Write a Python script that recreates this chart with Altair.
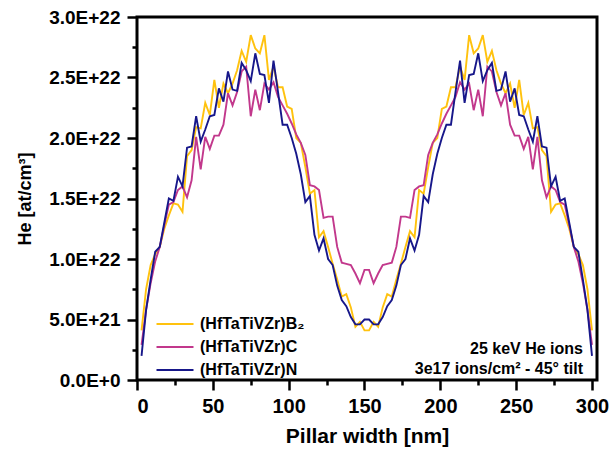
import altair as alt
import pandas as pd

# Pillar width grid [nm]
x_nm = [3, 6, 9, 12, 15, 18, 21, 24, 27, 30, 33, 36, 39, 42, 45, 48, 51, 54, 57, 60,
        63, 66, 69, 72, 75, 78, 81, 84, 87, 90, 93, 96, 99, 102, 105, 108, 111, 114, 117, 120,
        123, 126, 129, 132, 135, 138, 141, 144, 147, 150, 153, 156, 159, 162, 165, 168, 171, 174, 177, 180,
        183, 186, 189, 192, 195, 198, 201, 204, 207, 210, 213, 216, 219, 222, 225, 228, 231, 234, 237, 240,
        243, 246, 249, 252, 255, 258, 261, 264, 267, 270, 273, 276, 279, 282, 285, 288, 291, 294, 297, 300]

# He concentration in units of 1E+22 at/cm^3
he_b2 = [0.41, 0.75, 0.95, 1.04, 1.10, 1.25, 1.36, 1.46, 1.45, 1.39,
         1.85, 1.90, 2.09, 2.08, 2.29, 2.19, 2.48, 2.25, 2.45, 2.37,
         2.45, 2.56, 2.72, 2.63, 2.85, 2.74, 2.70, 2.85, 2.48, 2.59,
         2.42, 2.42, 2.26, 2.24, 2.00, 1.96, 1.76, 1.54, 1.57, 1.18,
         1.23, 1.10, 0.96, 0.83, 0.69, 0.71, 0.60, 0.44, 0.48, 0.41,
         0.41, 0.48, 0.44, 0.60, 0.71, 0.69, 0.83, 0.96, 1.10, 1.23,
         1.18, 1.57, 1.54, 1.76, 1.96, 2.00, 2.24, 2.26, 2.42, 2.42,
         2.59, 2.48, 2.85, 2.70, 2.74, 2.85, 2.63, 2.72, 2.56, 2.45,
         2.37, 2.45, 2.25, 2.48, 2.19, 2.29, 2.08, 2.09, 1.90, 1.85,
         1.39, 1.45, 1.46, 1.36, 1.25, 1.10, 1.04, 0.95, 0.75, 0.41]

he_c = [0.29, 0.58, 0.80, 0.98, 1.10, 1.28, 1.45, 1.47, 1.57, 1.60,
        1.51, 1.65, 2.01, 1.74, 2.01, 1.91, 2.02, 2.02, 2.11, 2.37,
        2.27, 2.38, 2.55, 2.59, 2.18, 2.40, 2.23, 2.45, 2.40, 2.46,
        2.34, 2.27, 2.20, 2.12, 2.03, 1.96, 1.86, 1.61, 1.60, 1.57,
        1.34, 1.35, 1.35, 1.10, 0.97, 0.96, 0.95, 0.88, 0.80, 0.91,
        0.91, 0.80, 0.88, 0.95, 0.96, 0.97, 1.10, 1.35, 1.35, 1.34,
        1.57, 1.60, 1.61, 1.86, 1.96, 2.03, 2.12, 2.20, 2.27, 2.34,
        2.46, 2.40, 2.45, 2.23, 2.40, 2.18, 2.59, 2.55, 2.38, 2.27,
        2.37, 2.11, 2.02, 2.02, 1.91, 2.01, 1.74, 2.01, 1.65, 1.51,
        1.60, 1.57, 1.47, 1.45, 1.28, 1.10, 0.98, 0.80, 0.58, 0.29]

he_n = [0.20, 0.58, 0.83, 1.06, 1.10, 1.30, 1.50, 1.48, 1.68, 1.60,
        1.92, 1.93, 2.18, 1.97, 2.07, 2.18, 2.19, 2.41, 2.30, 2.55,
        2.40, 2.39, 2.62, 2.56, 2.47, 2.70, 2.53, 2.52, 2.29, 2.64,
        2.38, 2.11, 2.11, 2.00, 1.87, 1.70, 1.47, 1.52, 1.20, 1.07,
        1.17, 1.00, 0.95, 0.78, 0.66, 0.61, 0.52, 0.46, 0.46, 0.50,
        0.50, 0.46, 0.46, 0.52, 0.61, 0.66, 0.78, 0.95, 1.00, 1.17,
        1.07, 1.20, 1.52, 1.47, 1.70, 1.87, 2.00, 2.11, 2.11, 2.38,
        2.64, 2.29, 2.52, 2.53, 2.70, 2.47, 2.56, 2.62, 2.39, 2.40,
        2.55, 2.30, 2.41, 2.19, 2.18, 2.07, 1.97, 2.18, 1.93, 1.92,
        1.60, 1.68, 1.48, 1.50, 1.30, 1.10, 1.06, 0.83, 0.58, 0.20]

series_names = ["(HfTaTiVZr)B\u2082", "(HfTaTiVZr)C", "(HfTaTiVZr)N"]
series_colors = ["#FFC20E", "#C2388C", "#17178A"]
annotation_lines = ["25 keV He ions", "3e17 ions/cm\u00b2 - 45\u00b0 tilt"]

x_major = [0, 50, 100, 150, 200, 250, 300]
x_minor = [25, 75, 125, 175, 225, 275]
y_major = [0, 0.5, 1.0, 1.5, 2.0, 2.5, 3.0]
y_minor = [0.25, 0.75, 1.25, 1.75, 2.25, 2.75]

rows = []
for name, vals in zip(series_names, [he_b2, he_c, he_n]):
    for i, (xv, yv) in enumerate(zip(x_nm, vals)):
        rows.append({"x": xv, "he": yv, "series": name, "order": i})
df = pd.DataFrame(rows)

FONT = "Liberation Sans"
xscale = alt.Scale(domain=[0, 303.3], nice=False, zero=False)
yscale = alt.Scale(domain=[0, 3.0], nice=False)

ylabel_expr = ("datum.value == 0 ? '0.0E+0' : (datum.value < 1 ? "
               "format(datum.value * 10, '.1f') + 'E+21' : format(datum.value, '.1f') + 'E+22')")

lines = alt.Chart(df).mark_line(strokeWidth=1.9, strokeJoin="miter").encode(
    x=alt.X("x:Q", scale=xscale,
            axis=alt.Axis(values=x_major, title="Pillar width [nm]", orient="bottom",
                          tickSize=10, tickWidth=2.5, labelPadding=6, titlePadding=9,
                          labelFontSize=20, titleFontSize=21)),
    y=alt.Y("he:Q", scale=yscale,
            axis=alt.Axis(values=y_major, title="He [at/cm\u00b3]", orient="left",
                          labelExpr=ylabel_expr, tickSize=10, tickWidth=2.5,
                          labelPadding=7, titlePadding=14, labelFontSize=19, titleFontSize=18)),
    color=alt.Color("series:N",
                    scale=alt.Scale(domain=series_names, range=series_colors),
                    legend=alt.Legend(title=None, orient="none", legendX=30, legendY=299,
                                      symbolType="M-3,0H3", symbolSize=152, symbolStrokeWidth=2,
                                      labelFontSize=16, labelFont=FONT, labelFontWeight="bold",
                                      labelOffset=17, rowPadding=7, padding=0)),
    order="order:Q",
)

minor = alt.Chart(df).mark_point(opacity=0).encode(
    x=alt.X("x:Q", scale=xscale,
            axis=alt.Axis(values=x_minor, labels=False, title=None, orient="bottom",
                          tickSize=5, tickWidth=2.5)),
    y=alt.Y("he:Q", scale=yscale,
            axis=alt.Axis(values=y_minor, labels=False, title=None, orient="left",
                          tickSize=5, tickWidth=2.5)),
)

ann1 = alt.Chart(pd.DataFrame({"t": [annotation_lines[0]]})).mark_text(
    align="right", baseline="middle", font=FONT, fontSize=16, fontWeight="bold", color="black"
).encode(text="t:N", x=alt.value(446), y=alt.value(332))

ann2 = alt.Chart(pd.DataFrame({"t": [annotation_lines[1]]})).mark_text(
    align="right", baseline="middle", font=FONT, fontSize=16, fontWeight="bold", color="black"
).encode(text="t:N", x=alt.value(446), y=alt.value(352))

chart = alt.layer(lines, minor, ann1, ann2).resolve_axis(
    x="independent", y="independent"
).properties(
    width=460, height=363,
    autosize=alt.AutoSizeParams(type="none"),
    padding={"left": 137, "top": 17, "right": 13, "bottom": 70},
    background="white",
).configure_view(
    stroke="black", strokeWidth=3
).configure_axis(
    grid=False, domain=False, tickColor="black", labelColor="black", titleColor="black",
    labelFont=FONT, titleFont=FONT, labelFontWeight="bold", titleFontWeight="bold",
)

chart.save("out.html", embed_options={"renderer": "svg", "actions": False})
